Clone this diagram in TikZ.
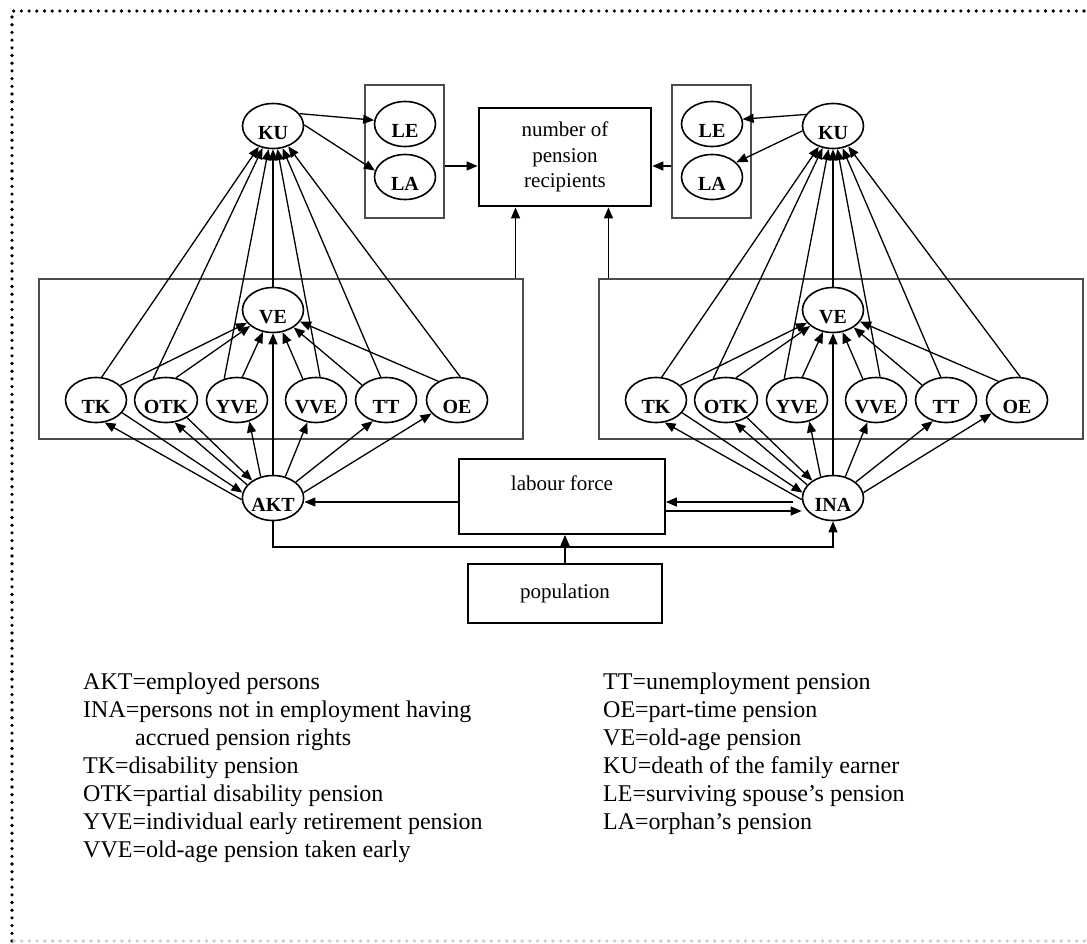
\documentclass[tikz,border=0pt]{standalone}
\usepackage{fontspec}
\setmainfont{Liberation Serif}
\usetikzlibrary{arrows.meta,shapes.geometric}
\newcommand{\pcluster}[4]{%
  \node[grpbox,minimum width=484pt,minimum height=160pt] (#1box) at (#2+8,359) {};
  \node[ell] (#1KU) at (#2,126) {KU};
  \node[ell] (#1VE) at (#2,310) {VE};
  \node[ell] (#1TK) at (#2-177,400) {TK};
  \node[ell] (#1OTK) at (#2-107,400) {OTK};
  \node[ell] (#1YVE) at (#2-36,400) {YVE};
  \node[ell] (#1VVE) at (#2+43,400) {VVE};
  \node[ell] (#1TT) at (#2+113,400) {TT};
  \node[ell] (#1OE) at (#2+184,400) {OE};
  \node[ell] (#3) at (#2,498) {#4};
  % into KU
  \draw[arr] (#1TK.76) -- (#1KU);
  \draw[arr] (#1OTK.121) -- (#1KU);
  \draw[arr] (#1YVE.121) -- (#1KU);
  \draw[arr] (#1VE) -- (#1KU);
  \draw[arr] (#1VVE.80) -- (#1KU);
  \draw[arr] (#1TT.103) -- (#1KU);
  \draw[arr] (#1OE.82) -- (#1KU);
  % into VE
  \draw[arr] (#1TK.31) -- (#1VE);
  \draw[arr] (#1OTK.66) -- (#1VE);
  \draw[arr] (#1YVE.77) -- (#1VE);
  \draw[arr] (#3) -- (#1VE);
  \draw[arr] (#1VVE.122) -- (#1VE);
  \draw[arr] (#1TT.148) -- (#1VE);
  \draw[arr] (#1OE.135) -- (#1VE);
  % hub links
  \draw[arr] (#3.183) -- (#1TK.-69);
  \draw[arr] (#1TK.-26) -- (#3.170);
  \draw[arr] (#3.153) -- (#1OTK.-69);
  \draw[arr] (#1OTK.-40) -- (#3.140);
  \draw[arr] (#3.120) -- (#1YVE.-60);
  \draw[arr] (#3.60) -- (#1VVE.-111);
  \draw[arr] (#3.35) -- (#1TT.-122);
  \draw[arr] (#3.10) -- (#1OE.-152);
}
\begin{document}
\begin{tikzpicture}[x=1pt,y=-1pt,
  ell/.style={ellipse,draw,line width=1.6pt,minimum width=61pt,minimum height=45pt,inner sep=0pt,
    text height=26pt,text depth=0pt,font=\fontsize{20}{20}\selectfont\bfseries},
  arr/.style={-{Triangle[length=11pt,width=9pt]},line width=1.3pt},
  grpbox/.style={draw=black!70,line width=1.1pt,rectangle,inner sep=0pt},
  txtbox/.style={draw,line width=1.8pt,rectangle,inner sep=0pt,font=\fontsize{21}{25.5}\selectfont,align=center},
  leg/.style={anchor=base west,inner sep=0pt,font=\fontsize{24}{28}\selectfont},
  framedots/.style={line width=3.6pt,line cap=round,dash pattern=on 0pt off 7.7pt}
]
\useasboundingbox (0,0) rectangle (1087,943);
\draw[framedots] (12,941) -- (12,11) -- (1087,11);
\draw[framedots,draw=black!20] (14,941) -- (1087,941);

\pcluster{L}{273}{AKT}{AKT}
\pcluster{R}{833}{INA}{INA}

\node[txtbox,line width=2.8pt,minimum width=172pt,minimum height=98pt] (num) at (565,157) {number of\\pension\\recipients};
\node[grpbox,minimum width=79pt,minimum height=133pt] (LLbox) at (404.5,151.5) {};
\node[ell] (LLE) at (405,124) {LE};
\node[ell] (LLA) at (405,177) {LA};
\node[grpbox,minimum width=79pt,minimum height=133pt] (RLbox) at (711.5,151.5) {};
\node[ell] (RLE) at (712,124) {LE};
\node[ell] (RLA) at (712,177) {LA};

\draw[arr] (LKU.25) -- (LLE.173);
\draw[arr] (LKU.2) -- (LLA.168);
\draw[arr] (RKU.157) -- (RLE.9);
\draw[arr] (RKU.189) -- (RLA.31);

\coordinate (lla) at ([yshift=-14.5pt]LLbox.east);
\draw[arr] (lla) -- (lla -| num.west);
\coordinate (rla) at ([yshift=-14.5pt]RLbox.west);
\draw[arr] (rla) -- (rla -| num.east);
\coordinate (lup) at ([xshift=-8pt]Lbox.north east);
\draw[arr] (lup) -- (lup |- num.south);
\coordinate (rup) at ([xshift=10pt]Rbox.north west);
\draw[arr] (rup) -- (rup |- num.south);

\node[txtbox,minimum width=206pt,minimum height=75pt,text height=15pt,text depth=28pt] (lab) at (562,496.5) {labour force};
\node[txtbox,minimum width=194pt,minimum height=59pt] (pop) at (565,593.5) {population};

\draw[arr] (pop.north) -- (pop.north |- lab.south);
\coordinate (lw) at ([yshift=-5.5pt]lab.west);
\draw[arr] (lw) -- (lw -| AKT.east);
\coordinate (le1) at ([yshift=-5.5pt]lab.east);
\coordinate (le2) at ([yshift=-14.5pt]lab.east);
\coordinate (iw) at ([xshift=-9pt]INA.west);
\draw[arr] (le1 -| iw) -- (le1);
\draw[arr] (le2) -- (le2 -| INA.west);
\coordinate (yb) at (0,547);
\draw[arr] (AKT.south) -- (AKT.south |- yb) -| (INA.south);

\node[leg] (g1) at (83,689) {AKT=employed persons};
\node[leg] (g2) at (83,717) {INA=persons not in employment having};
\node[leg] (g3) at (135,745) {accrued pension rights};
\node[leg] (g4) at (83,773) {TK=disability pension};
\node[leg] (g5) at (83,801) {OTK=partial disability pension};
\node[leg] (g6) at (83,829) {YVE=individual early retirement pension};
\node[leg] (g7) at (83,857) {VVE=old-age pension taken early};
\node[leg] (h1) at (603,689) {TT=unemployment pension};
\node[leg] (h2) at (603,717) {OE=part-time pension};
\node[leg] (h3) at (603,745) {VE=old-age pension};
\node[leg] (h4) at (603,773) {KU=death of the family earner};
\node[leg] (h5) at (603,801) {LE=surviving spouse’s pension};
\node[leg] (h6) at (603,829) {LA=orphan’s pension};
\end{tikzpicture}
\end{document}
